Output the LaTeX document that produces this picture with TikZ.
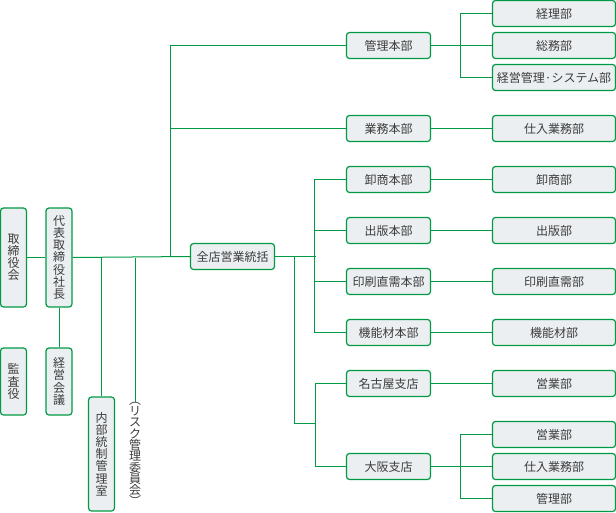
\documentclass[tikz,border=0pt]{standalone}
\usepackage{fontspec}
\setmainfont{Noto Sans CJK JP}
\definecolor{linegreen}{RGB}{0,153,68}
\definecolor{boxfill}{RGB}{236,239,241}
\definecolor{txtgray}{RGB}{60,60,60}
\tikzset{
  box/.style={draw=linegreen, fill=boxfill, line width=1.2pt, rounded corners=3pt,
    minimum width=84pt, minimum height=26pt, inner sep=0pt, text=txtgray,
    font=\fontsize{12}{14}\selectfont},
  wbox/.style={box, minimum width=123pt},
  vbox/.style={box, minimum width=26pt, align=center, font=\fontsize{12}{12.2}\selectfont},
  link/.style={draw=linegreen, line width=1pt},
}
\begin{document}
\begin{tikzpicture}[x=1pt, y=-1pt]
  \useasboundingbox (0,0) rectangle (616,512);
  % left column
  \node[vbox, minimum height=99pt] (board) at (13.5,257.5) {取\\締\\役\\会};
  \node[vbox, minimum height=99pt] (ceo) at (59,257.5) {代\\表\\取\\締\\役\\社\\長};
  \node[vbox, minimum height=67pt] (audit) at (13.5,381.5) {監\\査\\役};
  \node[vbox, minimum height=67pt] (council) at (59,381.5) {経\\営\\会\\議};
  \node[vbox, minimum height=114pt] (control) at (101.5,454) {内\\部\\統\\制\\管\\理\\室};
  \node[text=txtgray, align=center, inner sep=0pt, font=\fontsize{12}{11.3}\selectfont]
    (risk) at (135,454) {︵\\リ\\ス\\ク\\管\\理\\委\\員\\会\\︶};
  \node[box] (sales) at (232.5,256.5) {全店営業統括};
  % headquarters
  \node[box] (admin) at (388.5,45.5) {管理本部};
  \node[box] (ops) at (388.5,128.5) {業務本部};
  \node[box] (whole) at (388.5,179.5) {卸商本部};
  \node[box] (publ) at (388.5,230.5) {出版本部};
  \node[box] (print) at (388.5,281.5) {印刷直需本部};
  \node[box] (func) at (388.5,332.5) {機能材本部};
  \node[box] (nagoya) at (388.5,383.5) {名古屋支店};
  \node[box] (osaka) at (388.5,466.5) {大阪支店};
  % departments
  \node[wbox] (acct) at (554,13.5) {経理部};
  \node[wbox] (general) at (554,45.5) {総務部};
  \node[wbox] (mgmtsys) at (554,77.5) {経営管理·システム部};
  \node[wbox] (purch) at (554,128.5) {仕入業務部};
  \node[wbox] (wholed) at (554,179.5) {卸商部};
  \node[wbox] (publd) at (554,230.5) {出版部};
  \node[wbox] (printd) at (554,281.5) {印刷直需部};
  \node[wbox] (funcd) at (554,332.5) {機能材部};
  \node[wbox] (ngsales) at (554,383.5) {営業部};
  \node[wbox] (oksales) at (554,434.5) {営業部};
  \node[wbox] (okpurch) at (554,466.5) {仕入業務部};
  \node[wbox] (okadmin) at (554,498.5) {管理部};
  % joints
  \coordinate (topjn) at (170,257);
  \coordinate (hqjn) at (315.5,256.5);
  \coordinate (brjn) at (294.5,256.5);
  \coordinate (brsplit) at (315.5,423.5);
  % connectors
  \draw[link] (board.east) -- (ceo.west);
  \draw[link] (ceo.south) -- (council.north);
  \draw[link] (ceo.east) -- (sales.west);
  \draw[link] (control.north) -- (control.north |- ceo.east);
  \draw[link] (risk.north) -- (risk.north |- ceo.east);
  \draw[link] (admin.west) -| (topjn);
  \draw[link] (ops.west) -- (ops.west -| topjn);
  \draw[link] (sales.east) -- (hqjn);
  \draw[link] (whole.west) -- ++(-31,0) |- (func.west);
  \draw[link] (publ.west) -- ++(-31,0);
  \draw[link] (print.west) -- ++(-31,0);
  \draw[link] (brjn) |- (brsplit);
  \draw[link] (nagoya.west) -| (brsplit) |- (osaka.west);
  \draw[link] (admin.east) -- (general.west);
  \draw[link] (acct.west) -- ++(-31,0) |- (mgmtsys.west);
  \draw[link] (ops.east) -- (purch.west);
  \draw[link] (whole.east) -- (wholed.west);
  \draw[link] (publ.east) -- (publd.west);
  \draw[link] (print.east) -- (printd.west);
  \draw[link] (func.east) -- (funcd.west);
  \draw[link] (nagoya.east) -- (ngsales.west);
  \draw[link] (osaka.east) -- (okpurch.west);
  \draw[link] (oksales.west) -- ++(-31,0) |- (okadmin.west);
\end{tikzpicture}
\end{document}
